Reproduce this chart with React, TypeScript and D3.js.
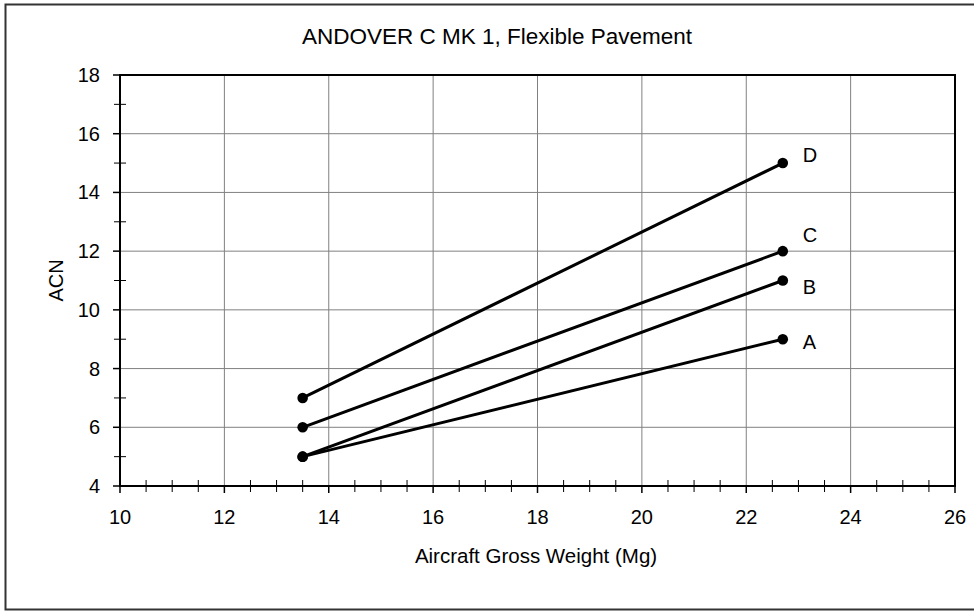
import React from "react";
import * as d3 from "d3";

const title = "ANDOVER C MK 1, Flexible Pavement";
const xTitle = "Aircraft Gross Weight (Mg)";
const yTitle = "ACN";
const weights = [13.5, 22.7];
const seriesNames = ["A", "B", "C", "D"];
const seriesA = [5, 9];
const seriesB = [5, 11];
const seriesC = [6, 12];
const seriesD = [7, 15];
const xTicks = [10, 12, 14, 16, 18, 20, 22, 24, 26];
const yTicks = [4, 6, 8, 10, 12, 14, 16, 18];

const labelDy = [10, 13, -9, -1];

export default function App() {
  const W = 974, H = 611;
  const left = 120, right = 955, top = 75, bottom = 486;
  const x = d3.scaleLinear().domain([10, 26]).range([left, right]);
  const y = d3.scaleLinear().domain([4, 18]).range([bottom, top]);
  const series = [seriesA, seriesB, seriesC, seriesD];
  const line = d3.line<number>().x((_, i) => x(weights[i])).y((d) => y(d));
  const xMinor = d3.range(10, 26.01, 0.5).filter((v) => Math.abs(v % 2) > 1e-6);
  const yMinor = d3.range(5, 18, 2);
  const font = "'Liberation Sans', Arial, sans-serif";
  return (
    <svg width={W} height={H} style={{ position: "absolute", left: 0, top: 0 }} fontFamily={font}>
      <rect x={0} y={0} width={W} height={H} fill="#fff" />
      <rect x={5.5} y={4.5} width={990} height={605} fill="none" stroke="#333" strokeWidth={2} />
      {/* grid */}
      {xTicks.slice(1, -1).map((v) => (
        <line key={"gx" + v} x1={x(v)} x2={x(v)} y1={top} y2={bottom} stroke="#808080" strokeWidth={1} />
      ))}
      {yTicks.slice(1, -1).map((v) => (
        <line key={"gy" + v} x1={left} x2={right} y1={y(v)} y2={y(v)} stroke="#808080" strokeWidth={1} />
      ))}
      {/* plot frame */}
      <rect x={left} y={top} width={right - left} height={bottom - top} fill="none" stroke="#000" strokeWidth={2} />
      {/* ticks */}
      {xTicks.map((v) => (
        <line key={"xt" + v} x1={x(v)} x2={x(v)} y1={bottom} y2={bottom + 7} stroke="#000" strokeWidth={1.5} />
      ))}
      {xMinor.map((v) => (
        <line key={"xm" + v} x1={x(v)} x2={x(v)} y1={bottom - 6} y2={bottom + 6} stroke="#000" strokeWidth={1} />
      ))}
      {yTicks.map((v) => (
        <line key={"yt" + v} x1={left - 7} x2={left} y1={y(v)} y2={y(v)} stroke="#000" strokeWidth={1.5} />
      ))}
      {yMinor.map((v) => (
        <line key={"ym" + v} x1={left - 6} x2={left + 6} y1={y(v)} y2={y(v)} stroke="#000" strokeWidth={1} />
      ))}
      {/* tick labels */}
      {xTicks.map((v) => (
        <text key={"xl" + v} x={x(v)} y={524} fontSize={20} textAnchor="middle" fill="#000">{v}</text>
      ))}
      {yTicks.map((v) => (
        <text key={"yl" + v} x={left - 20} y={y(v) + 7} fontSize={20} textAnchor="end" fill="#000">{v}</text>
      ))}
      {/* titles */}
      <text x={497} y={44} fontSize={22.5} textAnchor="middle" fill="#000">{title}</text>
      <text x={536} y={563} fontSize={20.5} textAnchor="middle" fill="#000">{xTitle}</text>
      <text transform={`translate(63,${(top + bottom) / 2}) rotate(-90)`} fontSize={20} textAnchor="middle" fill="#000">{yTitle}</text>
      {/* series */}
      {series.map((s, i) => (
        <g key={"s" + i}>
          <path d={line(s) || ""} fill="none" stroke="#000" strokeWidth={3} />
          {s.map((v, j) => (
            <circle key={j} cx={x(weights[j])} cy={y(v)} r={5.3} fill="#000" />
          ))}
          <text x={x(weights[1]) + 20} y={y(s[1]) + labelDy[i]} fontSize={20} fill="#000">{seriesNames[i]}</text>
        </g>
      ))}
    </svg>
  );
}
